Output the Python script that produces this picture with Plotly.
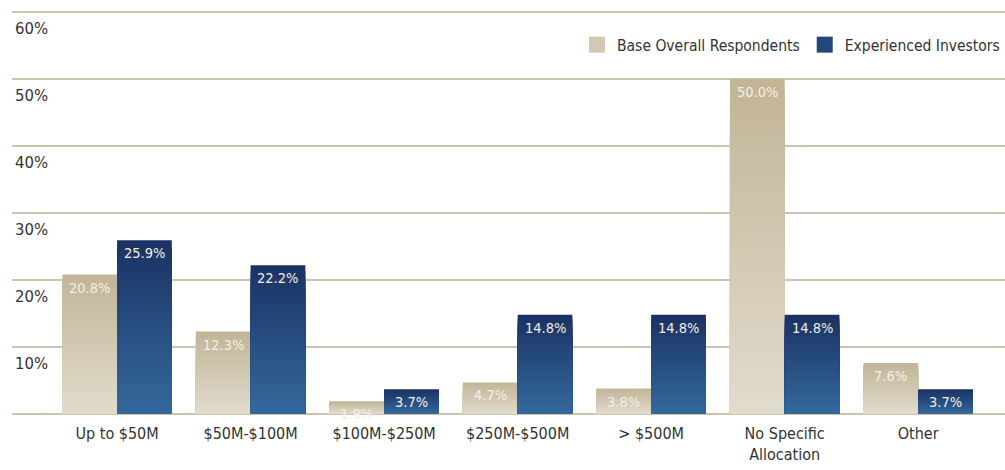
import plotly.graph_objects as go

categories = ["Up to $50M", "$50M-$100M", "$100M-$250M", "$250M-$500M", "> $500M",
              "No Specific<br>Allocation", "Other"]
base_overall = [20.8, 12.3, 1.9, 4.7, 3.8, 50.0, 7.6]
experienced = [25.9, 22.2, 3.7, 14.8, 14.8, 14.8, 3.7]
series_names = ["Base Overall Respondents", "Experienced Investors"]
y_ticks = [0, 10, 20, 30, 40, 50, 60]
y_tick_labels = ["", "10%", "20%", "30%", "40%", "50%", "60%"]

FONT = "DejaVu Sans Condensed, Liberation Sans Narrow, Roboto, sans-serif"
W, H = 1005, 470
ML, MR, MT, MB = 12, 0, 5, 56
XR = [-0.787, 6.65]


def hex2rgb(h):
    h = h.lstrip("#")
    return tuple(int(h[i:i + 2], 16) for i in (0, 2, 4))


def mix(c1, c2, t):
    a, b = hex2rgb(c1), hex2rgb(c2)
    return "rgb(%d,%d,%d)" % tuple(round(a[i] + (b[i] - a[i]) * t) for i in range(3))


gradients = [("#c2b598", "#e1dbcc"), ("#1b3364", "#34689c")]
legend_colors = ["#d3c9b3", "#25477c"]
offsets = [-0.41, 0.0]
WIDTH = 0.41
N = 24
px_per_unit = (W - ML - MR) / (XR[1] - XR[0])

fig = go.Figure()
annotations = []
for s, vals in enumerate([base_overall, experienced]):
    top, bottom = gradients[s]
    for k in range(N):
        frac = (N - k) / N
        fig.add_trace(go.Bar(
            x=categories, y=[v * frac for v in vals],
            offset=offsets[s], width=WIDTH,
            marker=dict(color=mix(top, bottom, k / (N - 1)), line=dict(width=0)),
            name=series_names[s], showlegend=False, hoverinfo="skip",
        ))
    # legend-only swatch
    fig.add_trace(go.Scatter(
        x=[None], y=[None], mode="markers", name=series_names[s],
        marker=dict(symbol="square", size=20, color=legend_colors[s]),
        showlegend=True,
    ))
    xs = (offsets[s] + WIDTH / 2) * px_per_unit
    for c, v in zip(categories, vals):
        annotations.append(dict(
            x=c, y=v, xref="x", yref="y", text="%.1f%%" % v, showarrow=False,
            xanchor="center", yanchor="top", xshift=xs, yshift=-3,
            font=dict(family=FONT, size=14.5, color="#f3efe6"),
        ))

fig.update_layout(
    template="none",
    barmode="overlay",
    width=W, height=H,
    margin=dict(l=ML, r=MR, t=MT, b=MB, pad=0),
    paper_bgcolor="white", plot_bgcolor="white",
    font=dict(family=FONT, size=16, color="#333333"),
    annotations=annotations,
    showlegend=True,
    legend=dict(orientation="h", x=1.0, xanchor="right", y=0.902, yanchor="middle",
                font=dict(family=FONT, size=15.5, color="#333333"),
                bgcolor="rgba(0,0,0,0)", itemsizing="trace", traceorder="normal",
                itemwidth=30, tracegroupgap=0),
    xaxis=dict(range=XR, showgrid=False, zeroline=False, showline=False, automargin=False,
               ticks="outside", ticklen=5, tickcolor="rgba(0,0,0,0)",
               tickfont=dict(family=FONT, size=16, color="#333333")),
    yaxis=dict(range=[0, 61], tickvals=y_ticks, ticktext=y_tick_labels, automargin=False,
               showgrid=True, gridcolor="#cdc4ae", gridwidth=1.5,
               zeroline=True, zerolinecolor="#cdc4ae", zerolinewidth=1.5,
               showline=False, ticks="", ticklabelposition="inside bottom",
               ticklabelshift=5,
               tickfont=dict(family=FONT, size=16.5, color="#333333")),
)

fig.write_html("out.html", config={"displayModeBar": False},
               post_script="document.body.style.margin='0';document.body.style.padding='0';")
